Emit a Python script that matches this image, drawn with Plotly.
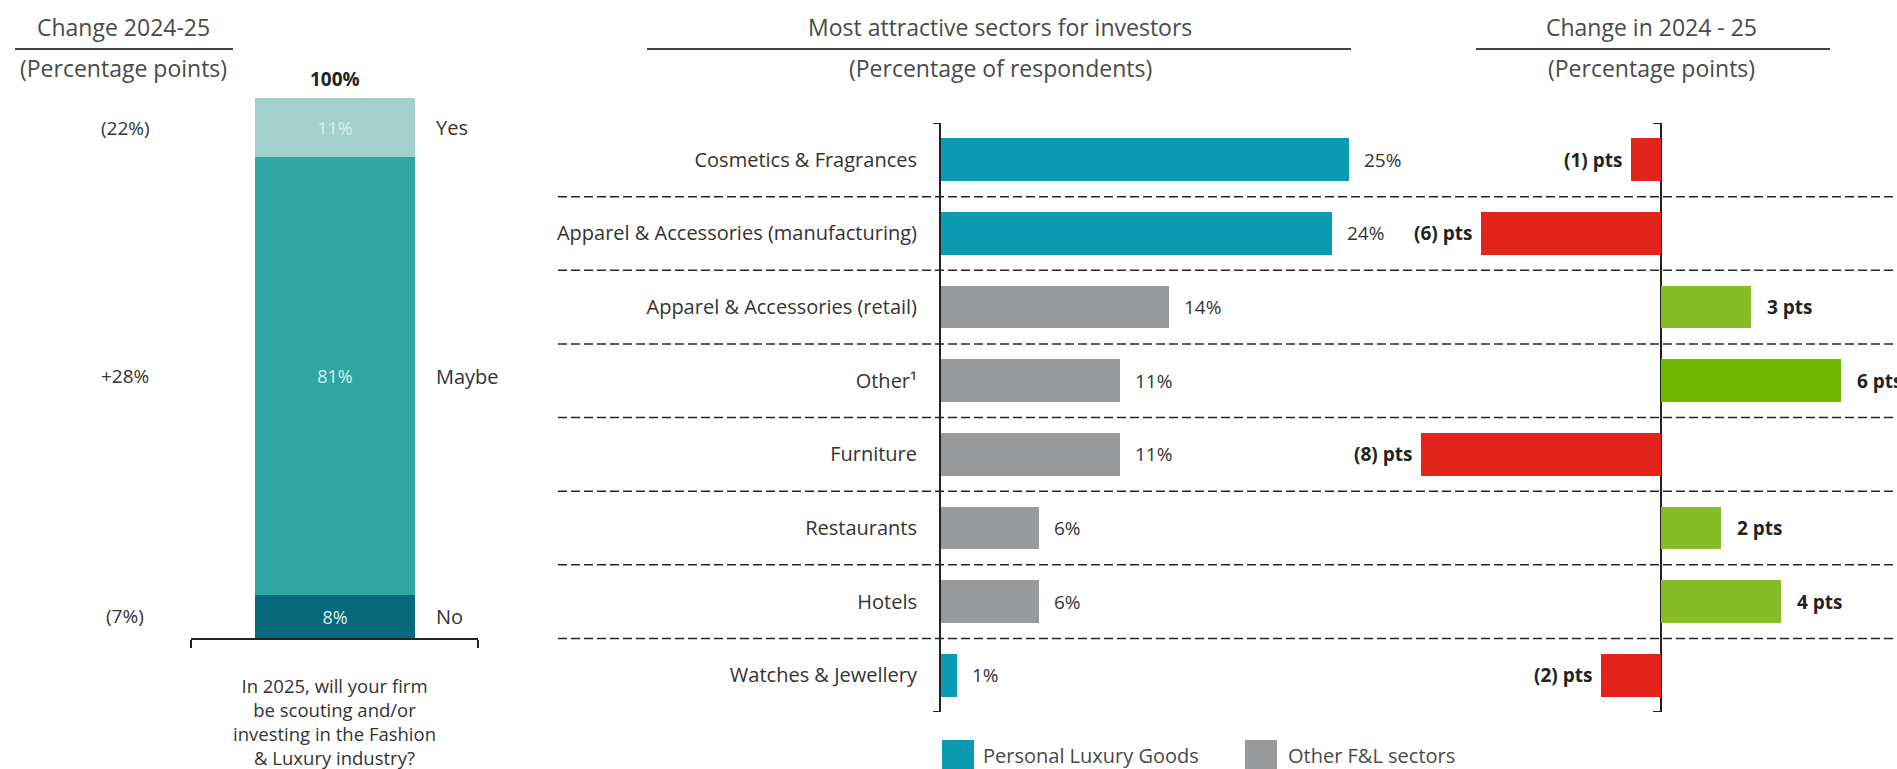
import plotly.graph_objects as go

# ---------------- data ----------------
# Left panel: intention to scout / invest in 2025 (share of respondents, %)
answer_labels = ["No", "Maybe", "Yes"]
answer_values = [8, 81, 11]
answer_change = [-7, 28, -22]          # change 2024-25, percentage points
question_lines = ["In 2025, will your firm", "be scouting and/or",
                  "investing in the Fashion", "& Luxury industry?"]

# Middle / right panels: most attractive sectors
sectors = ["Cosmetics & Fragrances", "Apparel & Accessories (manufacturing)",
           "Apparel & Accessories (retail)", "Other¹", "Furniture",
           "Restaurants", "Hotels", "Watches & Jewellery"]
sector_share = [25, 24, 14, 11, 11, 6, 6, 1]          # % of respondents
sector_group = ["Personal Luxury Goods", "Personal Luxury Goods",
                "Other F&L sectors", "Other F&L sectors", "Other F&L sectors",
                "Other F&L sectors", "Other F&L sectors", "Personal Luxury Goods"]
sector_change = [-1, -6, 3, 6, -8, 2, 4, -2]          # change 2024-25, pts
legend_groups = ["Personal Luxury Goods", "Other F&L sectors"]

# ---------------- styling ----------------
W, H = 1897, 769
FONT = "Open Sans"
TXT = "#333333"
HDR = "#4a4a4a"
answer_colors = {"No": "#07697a", "Maybe": "#31a5a3", "Yes": "#a2d0cc"}
group_colors = {"Personal Luxury Goods": "#0a9bb2", "Other F&L sectors": "#97999b"}
RED, GREEN, GREEN_TOP = "#e2241a", "#86bc25", "#70b700"


def fx(p):
    return p / W


def fy(p):
    return 1 - p / H


fig = go.Figure()

# ---- left: stacked answer bar ----
for lab, val in zip(answer_labels, answer_values):
    fig.add_trace(go.Bar(
        x=[0], y=[val], width=0.5575, xaxis="x", yaxis="y",
        marker=dict(color=answer_colors[lab], line=dict(width=0)),
        texttemplate="%{y}%", textposition="inside", insidetextanchor="middle",
        constraintext="none", textangle=0,
        textfont=dict(family=FONT, size=18, color="#d6efec"),
        showlegend=False, hoverinfo="skip"))

# ---- middle: sector share bars ----
fig.add_trace(go.Bar(
    x=sector_share, y=sectors, orientation="h", width=0.58,
    xaxis="x2", yaxis="y2",
    marker=dict(color=[group_colors[g] for g in sector_group], line=dict(width=0)),
    showlegend=False, hoverinfo="skip"))

# ---- right: change bars ----
top_gain = max(sector_change)
chg_colors = [RED if v < 0 else (GREEN_TOP if v == top_gain else GREEN)
              for v in sector_change]
fig.add_trace(go.Bar(
    x=sector_change, y=sectors, orientation="h", width=0.58,
    xaxis="x3", yaxis="y3",
    marker=dict(color=chg_colors, line=dict(width=0)),
    showlegend=False, hoverinfo="skip"))

ann = []
shapes = []

# left panel labels
cum = 0
for lab, val, chg in zip(answer_labels, answer_values, answer_change):
    mid = cum + val / 2
    cum += val
    chg_txt = f"+{chg}%" if chg > 0 else f"({abs(chg)}%)"
    ann.append(dict(x=fx(125), y=mid, xref="paper", yref="y", text=chg_txt,
                    showarrow=False, xanchor="center",
                    font=dict(family=FONT, size=19, color=TXT)))
    ann.append(dict(x=fx(434), y=mid, xref="paper", yref="y", text=lab,
                    showarrow=False, xanchor="left",
                    font=dict(family=FONT, size=20, color=TXT)))
ann.append(dict(x=0, y=cum, xref="x", yref="y", text=f"<b>{cum}%</b>",
                showarrow=False, yanchor="bottom", yshift=4,
                font=dict(family=FONT, size=19, color="#222222")))
# survey question under the stacked bar
ann.append(dict(x=fx(334), y=fy(721), xref="paper", yref="paper",
                text="<br>".join(question_lines), showarrow=False,
                xanchor="center", yanchor="middle", align="center",
                font=dict(family=FONT, size=18.5, color=TXT)))

# panel headers with rule lines
headers = [
    ("Change 2024-25", "(Percentage points)", 123, 15, 233),
    ("Most attractive sectors for investors", "(Percentage of respondents)", 1000, 647, 1351),
    ("Change in 2024 - 25", "(Percentage points)", 1651, 1476, 1830),
]
for title, sub, cx, x0, x1 in headers:
    ann.append(dict(x=fx(cx), y=fy(27), xref="paper", yref="paper", text=title,
                    showarrow=False, xanchor="center", yanchor="middle",
                    font=dict(family=FONT, size=23, color=HDR)))
    ann.append(dict(x=fx(cx), y=fy(68), xref="paper", yref="paper", text=sub,
                    showarrow=False, xanchor="center", yanchor="middle",
                    font=dict(family=FONT, size=23, color=HDR)))
    shapes.append(dict(type="line", xref="paper", yref="paper",
                       x0=fx(x0), x1=fx(x1), y0=fy(49), y1=fy(49),
                       line=dict(color="#444444", width=2)))

# middle value labels
for s, v in zip(sectors, sector_share):
    ann.append(dict(x=v, y=s, xref="x2", yref="y2", text=f"{v}%",
                    showarrow=False, xanchor="left", xshift=13,
                    font=dict(family=FONT, size=19, color=TXT)))

# right change labels
for s, v in zip(sectors, sector_change):
    if v < 0:
        ann.append(dict(x=v, y=s, xref="x3", yref="y3", text=f"<b>({abs(v)}) pts</b>",
                        showarrow=False, xanchor="right", xshift=-7,
                        font=dict(family=FONT, size=19, color="#222222")))
    else:
        ann.append(dict(x=v, y=s, xref="x3", yref="y3", text=f"<b>{v} pts</b>",
                        showarrow=False, xanchor="left", xshift=14,
                        font=dict(family=FONT, size=19, color="#222222")))

# dashed row separators across middle and right panels
for k in range(len(sectors) - 1):
    shapes.append(dict(type="line", xref="paper", yref="y2",
                       x0=fx(558), x1=1, y0=k + 0.5, y1=k + 0.5, layer="below",
                       line=dict(color="#262626", width=1.5, dash="9px,4px")))

# end ticks on the two vertical axes
n = len(sectors)
for ax_px in (941, 1661):
    for yv in (-0.5, n - 0.5):
        shapes.append(dict(type="line", xref="paper", yref="y2",
                           x0=fx(ax_px - 8), x1=fx(ax_px), y0=yv, y1=yv,
                           line=dict(color="#222222", width=2)))

# legend swatches + labels
for g, sx, tx in zip(legend_groups, (942, 1245), (982, 1287)):
    shapes.append(dict(type="rect", xref="paper", yref="paper",
                       x0=fx(sx), x1=fx(sx + 32), y0=fy(740), y1=fy(790),
                       fillcolor=group_colors[g], line=dict(width=0)))
    ann.append(dict(x=fx(tx), y=fy(755), xref="paper", yref="paper", text=g,
                    showarrow=False, xanchor="left", yanchor="middle",
                    height=26, borderpad=0,
                    font=dict(family=FONT, size=20, color=HDR)))

MID_PX_PER_PCT = 16.3
RIGHT_PX_PER_PT = 30.0
axis_common = dict(showgrid=False, zeroline=False, fixedrange=True)

fig.update_layout(
    width=W, height=H, margin=dict(l=0, r=0, t=0, b=0),
    paper_bgcolor="white", plot_bgcolor="rgba(0,0,0,0)",
    barmode="relative", bargap=0, showlegend=False,
    font=dict(family=FONT, color=TXT),
    xaxis=dict(domain=[fx(191), fx(478)], range=[-0.5, 0.5], anchor="y",
               showline=True, linecolor="#222222", linewidth=2,
               ticks="outside", tickvals=[-0.5, 0.5], ticklen=8, tickwidth=2,
               tickcolor="#222222", showticklabels=False, **axis_common),
    yaxis=dict(domain=[fy(638), fy(98)], range=[0, 100], anchor="x",
               visible=False, **axis_common),
    xaxis2=dict(domain=[fx(941), fx(1391)], range=[0, 450 / MID_PX_PER_PCT],
                anchor="y2", visible=False, **axis_common),
    yaxis2=dict(domain=[fy(712), fy(123)], type="category",
                categoryorder="array", categoryarray=sectors,
                range=[n - 0.5, -0.5], anchor="x2",
                showline=True, linecolor="#222222", linewidth=2, ticks="",
                ticklabelstandoff=18,
                tickfont=dict(family=FONT, size=20, color=TXT), **axis_common),
    xaxis3=dict(domain=[fx(1400), 1],
                range=[-(1661 - 1400) / RIGHT_PX_PER_PT, (1897 - 1661) / RIGHT_PX_PER_PT],
                anchor="y3", showticklabels=False, showgrid=False, fixedrange=True,
                zeroline=True, zerolinecolor="#222222", zerolinewidth=2),
    yaxis3=dict(domain=[fy(712), fy(123)], type="category",
                categoryorder="array", categoryarray=sectors,
                range=[n - 0.5, -0.5], anchor="x3", visible=False, **axis_common),
    annotations=ann, shapes=shapes,
)

fig.write_html("out.html", config={"displayModeBar": False})
